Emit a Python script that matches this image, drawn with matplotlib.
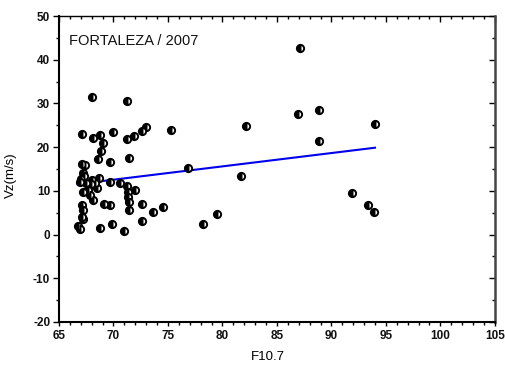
import matplotlib
matplotlib.use("Agg")
import matplotlib.pyplot as plt
import numpy as np

plt.rcParams['font.family'] = ['Liberation Sans', 'DejaVu Sans']
plt.rcParams['axes.unicode_minus'] = False

# Data
f107 = [68.06, 71.2, 67.1, 68.1, 68.8, 70.0, 71.2, 71.9, 72.6, 73.0,
        75.3, 82.2, 86.9, 87.1, 88.9, 94.0, 88.9, 69.06, 68.9, 68.6,
        69.7, 67.1, 67.4, 71.4, 76.8, 81.7, 67.2, 67.0, 67.3, 67.5,
        68.0, 68.7, 69.7, 70.6, 71.2, 72.0, 67.2, 67.7, 68.5, 67.8,
        68.1, 71.3, 71.3, 71.4, 71.4, 72.6, 73.6, 69.1, 69.7, 67.1,
        67.2, 67.2, 67.1, 66.7, 66.9, 68.8, 69.9, 71.0, 72.6, 74.5,
        79.5, 78.2, 91.9, 93.4, 93.9, 66.9, 67.9, 68.3]
vz = [31.5, 30.5, 23.0, 22.2, 22.8, 23.4, 21.9, 22.6, 23.6, 24.7,
      24.0, 24.8, 27.6, 42.6, 28.6, 25.3, 21.4, 21.0, 19.2, 17.2,
      16.5, 16.2, 15.9, 17.6, 15.3, 13.4, 14.0, 12.6, 13.3, 11.8,
      12.5, 12.9, 12.1, 11.9, 11.1, 10.3, 9.8, 10.2, 10.6, 9.0,
      7.9, 9.8, 8.7, 7.5, 5.6, 7.1, 5.2, 7.0, 6.8, 6.8,
      5.6, 3.5, 4.0, 2.0, 1.3, 1.6, 2.5, 0.8, 3.1, 6.2,
      4.8, 2.3, 9.4, 6.8, 5.1, 12.0, 11.5, 11.7]
fit_slope = 0.305
fit_intercept = -8.8

title_text = "FORTALEZA / 2007"
xlabel = "F10.7"
ylabel = "Vz(m/s)"

fig = plt.figure(figsize=(5.06, 3.65), dpi=100)
ax = fig.add_axes([0.1166, 0.118, 0.978 - 0.1166, 0.956 - 0.118])

ax.plot(f107, vz, linestyle='none', marker='o', markersize=5.2,
        fillstyle='left', markerfacecolor='black', markerfacecoloralt='white',
        markeredgecolor='black', markeredgewidth=1.4, zorder=3)

xs = np.array([min(f107), max(f107)])
ax.plot(xs, fit_intercept + fit_slope * xs, color='#0000ee', lw=1.5, zorder=2)

ax.set_xlim(65, 105)
ax.set_ylim(-20, 50)
ax.set_xticks(np.arange(65, 106, 5))
ax.set_yticks(np.arange(-20, 51, 10))
ax.set_xticks(np.arange(65, 106, 1), minor=True)
ax.set_yticks(np.arange(-20, 51, 5), minor=True)

ax.tick_params(axis='both', which='major', direction='out', length=4.3, width=1.0,
               labelsize=8.5, pad=2)
ax.tick_params(axis='both', which='minor', direction='out', length=2.2, width=1.0)
ax.tick_params(axis='x', which='major', length=3, pad=2.5)
ax.tick_params(axis='x', which='minor', length=2)

for lab in ax.get_xticklabels() + ax.get_yticklabels():
    lab.set_fontweight('bold')
    lab.set_color('#111111')

secx = ax.secondary_xaxis('top')
secx.set_xticks(np.arange(65, 106, 5))
secx.set_xticks(np.arange(65, 106, 1), minor=True)
secx.tick_params(which='major', direction='in', length=4, width=1.0, labeltop=False)
secx.tick_params(which='minor', direction='in', length=2.2, width=1.0)
secx.spines['top'].set_linewidth(1.0)

secy = ax.secondary_yaxis('right')
secy.set_yticks(np.arange(-20, 51, 10))
secy.set_yticks(np.arange(-20, 51, 5), minor=True)
secy.tick_params(which='major', direction='in', length=4, width=1.0, labelright=False)
secy.tick_params(which='minor', direction='in', length=2.4, width=1.0)
secy.spines['right'].set_linewidth(1.8)
secy.spines['right'].set_color('#444444')

ax.spines['left'].set_linewidth(1.5)
ax.spines['bottom'].set_linewidth(1.5)
ax.spines['top'].set_visible(False)
ax.spines['right'].set_visible(False)

ax.text(65.9, 44.2, title_text, fontsize=10.5, va='center', ha='left', color='#111111')

ax.set_xlabel(xlabel, fontsize=9.5)
ax.set_ylabel(ylabel, fontsize=9.5)
ax.xaxis.set_label_coords(0.479, -0.114)
ax.yaxis.set_label_coords(-0.110, 0.48)
ax.xaxis.label.set_va('center')
ax.yaxis.label.set_va('center')

fig.savefig("out.png", dpi=100)
